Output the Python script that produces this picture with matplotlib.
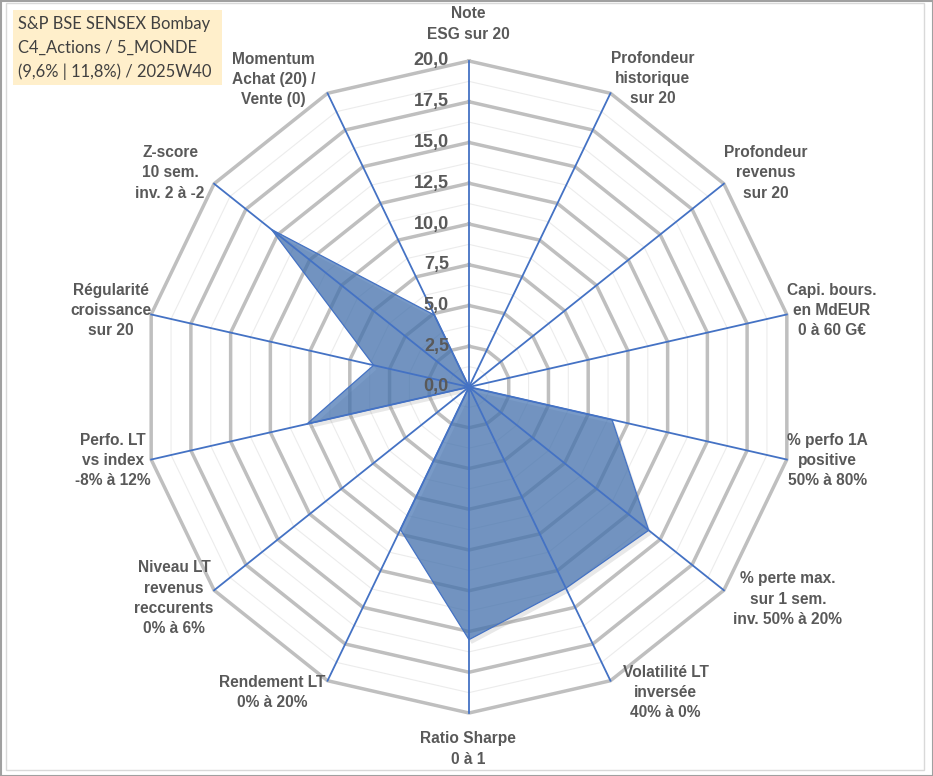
import numpy as np
import matplotlib
matplotlib.use("Agg")
import matplotlib.pyplot as plt
from matplotlib.patches import Polygon, Rectangle
import matplotlib.patheffects as pe

# ---------------- data ----------------
categories = [
    "Note\nESG sur 20",
    "Profondeur\nhistorique\nsur 20",
    "Profondeur\nrevenus\nsur 20",
    "Capi. bours.\nen MdEUR\n0 à 60 G€",
    "% perfo 1A\npositive\n50% à 80%",
    "% perte max.\nsur 1 sem.\ninv. 50% à 20%",
    "Volatilité LT\ninversée\n40% à 0%",
    "Ratio Sharpe\n0 à 1",
    "Rendement LT\n0% à 20%",
    "Niveau LT\nrevenus\nreccurents\n0% à 6%",
    "Perfo. LT\nvs index\n-8% à 12%",
    "Régularité\ncroissance\nsur 20",
    "Z-score\n10 sem.\ninv. 2 à -2",
    "Momentum\nAchat (20) /\nVente (0)",
]
values = [0.0, 0.0, 0.0, 0.0, 9.0, 14.1, 13.7, 15.5, 9.7, 0.0, 10.2, 6.0, 15.5, 4.9]
r_ticks = [0.0, 2.5, 5.0, 7.5, 10.0, 12.5, 15.0, 17.5, 20.0]
r_max = 20.0
title_lines = ["S&P BSE SENSEX Bombay", "C4_Actions / 5_MONDE", "(9,6% | 11,8%) / 2025W40"]

# ---------------- layout ----------------
W, H, DPI = 933, 776, 100
cx_px, cy_px = 469, 387          # centre in pixels (from top-left)
scale = 16.3                     # px per unit

fig = plt.figure(figsize=(W / DPI, H / DPI), dpi=DPI)
ax = fig.add_axes([0, 0, 1, 1])
ax.set_xlim(-cx_px / scale, (W - cx_px) / scale)
ax.set_ylim(-(H - cy_px) / scale, cy_px / scale)
ax.axis("off")

n = len(categories)
theta = np.arange(n) * 2 * np.pi / n   # clockwise from top

def xy(r, t):
    return r * np.sin(t), r * np.cos(t)

# minor rings
for k in range(1, 16 + 1):
    r = k * 1.25
    if abs(r / 2.5 - round(r / 2.5)) < 1e-6:
        continue
    x, y = xy(r, np.append(theta, theta[0]))
    ax.plot(x, y, color="#ECECEC", lw=0.8, zorder=1)
# major rings
for r in r_ticks[1:]:
    x, y = xy(r, np.append(theta, theta[0]))
    ax.plot(x, y, color="#BFBFBF", lw=2.5, zorder=2, solid_joinstyle="miter")

# data polygon
vx, vy = xy(np.array(values), theta)
poly = Polygon(np.column_stack([vx, vy]), closed=True, facecolor="#4070B0",
               alpha=0.70, edgecolor="none", zorder=3)
poly.set_path_effects([pe.SimplePatchShadow(offset=(2, -3), shadow_rgbFace="#808080", alpha=0.18),
                       pe.Normal()])
ax.add_patch(poly)
edge = Polygon(np.column_stack([vx, vy]), closed=True, facecolor="none",
               edgecolor="#4472C4", lw=0.9, zorder=4)
ax.add_patch(edge)

# spokes
for t in theta:
    x, y = xy(np.array([0, r_max]), t)
    ax.plot(x, y, color="#4472C4", lw=1.3, zorder=5)

# radial tick labels
for r in r_ticks:
    ax.annotate(f"{r:.1f}".replace(".", ","), xy=(0, r), xytext=(-20, 0),
                textcoords="offset pixels", ha="right", va="center",
                fontsize=13, fontweight="bold", color="#595959",
                family="Liberation Sans", zorder=6)

# category labels
label_offsets = [(-1, 37), (42, 15), (42, 11), (45, 4), (41, -1), (64, -9), (55, -12),
                 (-1, -36), (-55, -12), (-40, -8), (-38, -1), (-40, 4), (-44, 11), (-54, 14)]
for lab, t, off in zip(categories, theta, label_offsets):
    x, y = xy(r_max, t)
    ax.annotate(lab, xy=(x, y), xytext=off, textcoords="offset pixels",
                ha="center", va="center", multialignment="center",
                fontsize=11.2, fontweight="bold", color="#595959",
                family="Liberation Sans", linespacing=1.44, zorder=6)

# title box
def fx(px):
    return px / W
def fy(py):
    return 1 - py / H

fig.patches.append(Rectangle((fx(13), fy(85)), (222 - 13) / W, (85 - 10) / H,
                             transform=fig.transFigure, facecolor="#FFEFCB",
                             edgecolor="none", zorder=0))
for i, line in enumerate(title_lines):
    fig.text(fx(18), fy(24 + 24 * i), line, ha="left", va="center",
             fontsize=11.9, family="Lato", color="#404040", zorder=7)

# frames
fig.patches.append(Rectangle((fx(6), fy(770)), (924 - 6) / W, (770 - 3) / H,
                             transform=fig.transFigure, facecolor="none",
                             edgecolor="#D9D9D9", lw=1.0))
fig.patches.append(Rectangle((0.5 / W, 0.5 / H), 1 - 1.0 / W, 1 - 1.0 / H,
                             transform=fig.transFigure, facecolor="none",
                             edgecolor="#A0A0A0", lw=1.5))

fig.savefig("out.png", dpi=DPI)
